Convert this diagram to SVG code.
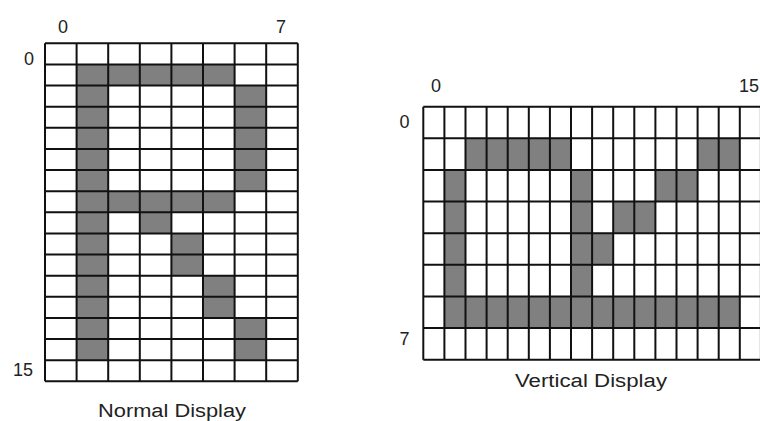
<svg xmlns="http://www.w3.org/2000/svg" width="760" height="421" viewBox="0 0 760 421">
<style>
.cell{fill:#808080}
.bg{fill:#ffffff}
.grid{fill:none;stroke:#111;stroke-width:2;vector-effect:non-scaling-stroke}
.lbl{font-family:"Liberation Sans",Arial,sans-serif;font-size:18px;fill:#222}
</style>
<rect width="760" height="421" fill="#ffffff"/>
<g id="normal-display">
  <g transform="translate(45,43.3) scale(31.6,21.125)">
    <rect class="bg" x="0" y="0" width="8" height="16"/>
    <rect class="cell" x="1" y="1" width="5" height="1"/>
    <rect class="cell" x="1" y="1" width="1" height="14"/>
    <rect class="cell" x="6" y="2" width="1" height="5"/>
    <rect class="cell" x="1" y="7" width="5" height="1"/>
    <rect class="cell" x="3" y="8" width="1" height="1"/>
    <rect class="cell" x="4" y="9" width="1" height="2"/>
    <rect class="cell" x="5" y="11" width="1" height="2"/>
    <rect class="cell" x="6" y="13" width="1" height="2"/>
    <path class="grid" d="M0 0V16M1 0V16M2 0V16M3 0V16M4 0V16M5 0V16M6 0V16M7 0V16M8 0V16M0 0H8M0 1H8M0 2H8M0 3H8M0 4H8M0 5H8M0 6H8M0 7H8M0 8H8M0 9H8M0 10H8M0 11H8M0 12H8M0 13H8M0 14H8M0 15H8M0 16H8"/>
  </g>
  <text class="lbl" x="63" y="33" text-anchor="middle">0</text>
  <text class="lbl" x="281" y="33" text-anchor="middle">7</text>
  <text class="lbl" x="29" y="65" text-anchor="middle">0</text>
  <text class="lbl" x="23" y="376" text-anchor="middle">15</text>
  <text class="lbl" x="98" y="417" textLength="148" lengthAdjust="spacingAndGlyphs">Normal Display</text>
</g>
<g id="vertical-display">
  <g transform="translate(423.3,106.7) scale(21.1,31.625)">
    <rect class="bg" x="0" y="0" width="16" height="8"/>
    <rect class="cell" x="2" y="1" width="5" height="1"/>
    <rect class="cell" x="13" y="1" width="2" height="1"/>
    <rect class="cell" x="1" y="2" width="1" height="5"/>
    <rect class="cell" x="7" y="2" width="1" height="5"/>
    <rect class="cell" x="1" y="6" width="14" height="1"/>
    <rect class="cell" x="8" y="4" width="1" height="1"/>
    <rect class="cell" x="9" y="3" width="2" height="1"/>
    <rect class="cell" x="11" y="2" width="2" height="1"/>
    <path class="grid" d="M0 0V8M1 0V8M2 0V8M3 0V8M4 0V8M5 0V8M6 0V8M7 0V8M8 0V8M9 0V8M10 0V8M11 0V8M12 0V8M13 0V8M14 0V8M15 0V8M16 0V8M0 0H16M0 1H16M0 2H16M0 3H16M0 4H16M0 5H16M0 6H16M0 7H16M0 8H16"/>
  </g>
  <text class="lbl" x="436" y="92" text-anchor="middle">0</text>
  <text class="lbl" x="749" y="92" text-anchor="middle">15</text>
  <text class="lbl" x="404.5" y="128" text-anchor="middle">0</text>
  <text class="lbl" x="404.5" y="345" text-anchor="middle">7</text>
  <text class="lbl" x="515" y="386.5" textLength="152" lengthAdjust="spacingAndGlyphs">Vertical Display</text>
</g>
</svg>
